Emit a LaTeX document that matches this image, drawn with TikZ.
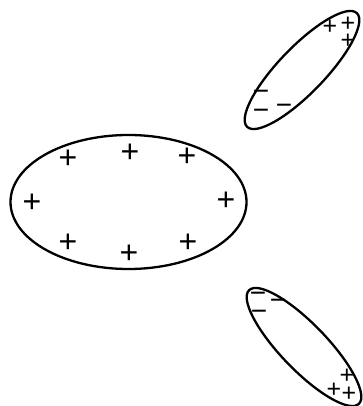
\documentclass[tikz,border=0pt]{standalone}
\usepackage{fontspec}
\setmainfont{Liberation Sans}

\begin{document}
\begin{tikzpicture}[x=1pt, y=1pt]
        % Styles
        \tikzset{
            shell/.style={draw=black, line width=2.3pt},
            bigcharge/.style={inner sep=0pt, font=\fontsize{32}{32}\selectfont},
            smallcharge/.style={inner sep=0pt, font=\fontsize{25}{25}\selectfont},
            smallminus/.style={inner sep=0pt, font=\fontsize{28}{28}\selectfont}
        }
        \useasboundingbox (0,0) rectangle (363,-406);

        % Big ellipse
        \draw [shell] (128.5,-202) ellipse [x radius=118, y radius=67];
        \foreach \px/\py [count=\i] in {68/159, 130/153, 187/157, 32/203, 226/201, 68/243, 129/254, 188/243}
            \node [bigcharge] (big\i) at (\px,-\py) {+};

        % Upper dipole
        \draw [shell, rotate around={46:(302,-70)}] (302,-70) ellipse [x radius=79, y radius=23];
        \foreach \px/\py [count=\i] in {330/27, 348/24, 348/41}
            \node [smallcharge] (upplus\i) at (\px,-\py) {+};
        \foreach \px/\py [count=\i] in {261/95, 261/114, 284/109}
            \node [smallminus] (upminus\i) at (\px,-\py) {−};

        % Lower dipole
        \draw [shell, rotate around={-46:(304,-347)}] (304,-347) ellipse [x radius=79, y radius=23];
        \foreach \px/\py [count=\i] in {347/376, 334/390, 349/394}
            \node [smallcharge] (lowplus\i) at (\px,-\py) {+};
        \foreach \px/\py [count=\i] in {258/297, 278/304, 259/315}
            \node [smallminus] (lowminus\i) at (\px,-\py) {−};
    \end{tikzpicture}
\end{document}
